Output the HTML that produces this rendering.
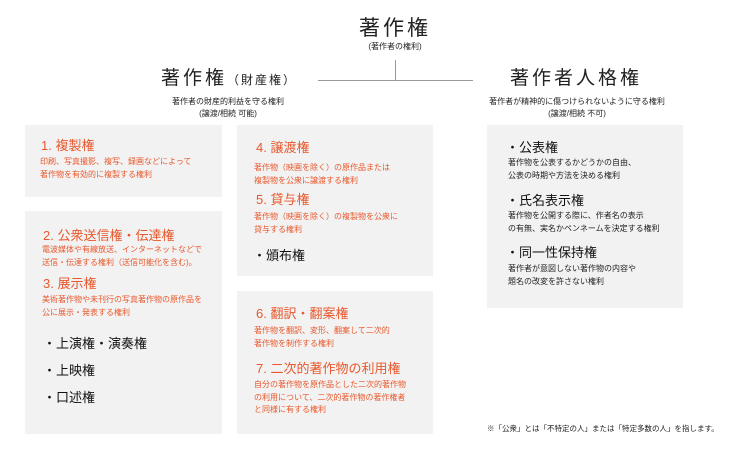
<!DOCTYPE html>
<html><head><meta charset="utf-8"><style>
body{margin:0;width:750px;height:456px;background:#fff;position:relative;overflow:hidden;font-family:"Liberation Sans","Noto Sans CJK JP",sans-serif;color:#222}
.a{position:absolute;white-space:nowrap}
.box{position:absolute;background:#f2f2f2}
.t{position:absolute;white-space:nowrap;color:#e8582c;font-size:13px;line-height:13px}
.d{position:absolute;white-space:nowrap;color:#e8582c;font-size:8px;line-height:12.5px}
.b{position:absolute;white-space:nowrap;color:#111;font-size:13px;line-height:13px}
.k{position:absolute;white-space:nowrap;color:#222;font-size:8px;line-height:12.5px}
.line{position:absolute;background:#999}
</style></head><body>
<div class="a" style="left:0;width:790px;text-align:center;top:18px;font-size:21px;line-height:22px;letter-spacing:3px">著作権</div>
<div class="a" style="left:0;width:790px;text-align:center;top:42px;font-size:8px;line-height:10px">(著作者の権利)</div>
<div class="line" style="left:395px;top:60px;width:1px;height:20px"></div>
<div class="line" style="left:318px;top:80px;width:155px;height:1px"></div>
<div class="a" style="left:161px;top:69px;font-size:19px;line-height:20px;letter-spacing:3px">著作権<span style="font-size:12px;letter-spacing:2px">（財産権）</span></div>
<div class="a" style="left:128px;width:200px;text-align:center;top:96px;font-size:8px;line-height:12px">著作者の財産的利益を守る権利<br>(譲渡/相続 可能)</div>
<div class="a" style="left:510px;top:69px;font-size:19px;line-height:20px;letter-spacing:3px">著作者人格権</div>
<div class="a" style="left:477px;width:200px;text-align:center;top:96px;font-size:8px;line-height:12px">著作者が精神的に傷つけられないように守る権利<br>(譲渡/相続 不可)</div>

<div class="box" style="left:25px;top:125px;width:197px;height:72px"></div>
<div class="t" style="left:41px;top:139px">1. 複製権</div>
<div class="d" style="left:40px;top:156px">印刷、写真撮影、複写、録画などによって<br>著作物を有効的に複製する権利</div>

<div class="box" style="left:25px;top:211px;width:197px;height:223px"></div>
<div class="t" style="left:43px;top:229px">2. 公衆送信権・伝達権</div>
<div class="d" style="left:42px;top:244px">電波媒体や有線放送、インターネットなどで<br>送信・伝達する権利（送信可能化を含む)。</div>
<div class="t" style="left:43px;top:277px">3. 展示権</div>
<div class="d" style="left:42px;top:294px">美術著作物や未刊行の写真著作物の原作品を<br>公に展示・発表する権利</div>
<div class="b" style="left:43px;top:337px">・上演権・演奏権</div>
<div class="b" style="left:43px;top:364px">・上映権</div>
<div class="b" style="left:43px;top:391px">・口述権</div>

<div class="box" style="left:237px;top:125px;width:196px;height:151px"></div>
<div class="t" style="left:256px;top:141px">4. 譲渡権</div>
<div class="d" style="left:254px;top:162px">著作物（映画を除く）の原作品または<br>複製物を公衆に譲渡する権利</div>
<div class="t" style="left:256px;top:193px">5. 貸与権</div>
<div class="d" style="left:254px;top:211px">著作物（映画を除く）の複製物を公衆に<br>貸与する権利</div>
<div class="b" style="left:253px;top:249px">・頒布権</div>

<div class="box" style="left:237px;top:291px;width:196px;height:143px"></div>
<div class="t" style="left:256px;top:307px">6. 翻訳・翻案権</div>
<div class="d" style="left:254px;top:325px">著作物を翻訳、変形、翻案して二次的<br>著作物を制作する権利</div>
<div class="t" style="left:256px;top:362px">7. 二次的著作物の利用権</div>
<div class="d" style="left:254px;top:379px">自分の著作物を原作品とした二次的著作物<br>の利用について、二次的著作物の著作権者<br>と同様に有する権利</div>

<div class="box" style="left:487px;top:125px;width:196px;height:183px"></div>
<div class="b" style="left:506px;top:141px">・公表権</div>
<div class="k" style="left:508px;top:157px">著作物を公表するかどうかの自由、<br>公表の時期や方法を決める権利</div>
<div class="b" style="left:506px;top:194px">・氏名表示権</div>
<div class="k" style="left:508px;top:210px">著作物を公開する際に、作者名の表示<br>の有無、実名かペンネームを決定する権利</div>
<div class="b" style="left:506px;top:246px">・同一性保持権</div>
<div class="k" style="left:508px;top:263px">著作者が意図しない著作物の内容や<br>題名の改変を許さない権利</div>

<div class="a" style="left:487px;top:424px;font-size:7.5px;line-height:10px;color:#222">※「公衆」とは「不特定の人」または「特定多数の人」を指します。</div>
</body></html>
